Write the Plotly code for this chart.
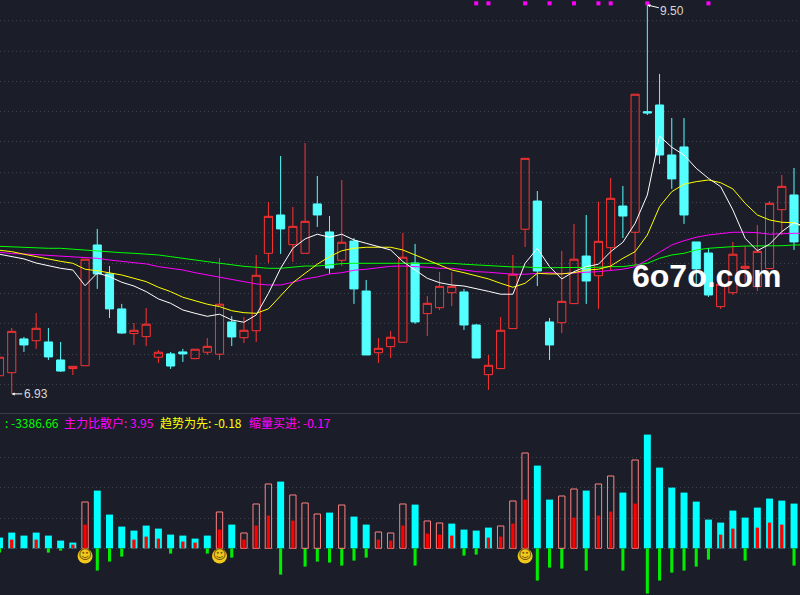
import plotly.graph_objects as go

opens = [7.050,7.070,7.293,7.281,7.273,7.154,7.097,7.116,7.913,7.722,7.491,7.328,7.308,7.172,7.194,7.207,7.163,7.205,7.192,7.405,7.301,7.347,7.858,8.111,7.915,7.858,8.184,7.999,7.812,7.939,7.609,7.202,7.242,7.271,7.794,7.460,7.499,7.598,7.603,7.385,7.057,7.097,7.361,8.017,8.203,7.405,7.400,7.526,7.840,7.710,7.895,8.170,7.997,8.793,8.837,8.507,8.560,7.933,7.860,7.506,7.598,7.759,7.638,7.757,8.146,8.243]
closes = [7.172,7.343,7.253,7.363,7.174,7.081,7.112,7.819,7.722,7.491,7.332,7.350,7.390,7.205,7.114,7.194,7.225,7.244,7.522,7.306,7.350,7.713,8.102,8.019,8.036,8.069,8.111,7.761,7.931,7.623,7.187,7.231,7.304,7.832,7.405,7.528,7.640,7.640,7.385,7.167,7.119,7.350,7.720,8.485,7.741,7.253,7.541,7.819,7.675,7.937,8.221,8.104,8.908,8.784,8.507,8.349,8.111,7.755,7.583,7.654,7.852,7.772,7.871,8.188,8.300,7.933]
highs = [7.172,7.365,7.306,7.464,7.365,7.273,7.112,7.819,8.019,7.774,7.524,7.398,7.497,7.220,7.207,7.227,7.225,7.299,7.827,7.444,7.438,7.847,8.197,8.500,8.164,8.586,8.368,8.104,8.342,7.959,7.682,7.299,7.345,7.992,7.920,7.576,7.735,7.735,7.623,7.392,7.187,7.438,7.847,8.485,8.269,7.431,7.873,8.052,8.111,8.199,8.355,8.302,8.908,9.500,9.042,8.751,8.751,7.933,7.893,7.682,7.933,7.906,8.045,8.203,8.375,8.421]
lows = [7.048,6.930,7.207,7.227,7.154,7.075,7.055,7.116,7.623,7.431,7.326,7.253,7.246,7.134,7.095,7.141,7.159,7.187,7.154,7.246,7.266,7.273,7.794,7.854,7.801,7.858,8.032,7.722,7.774,7.524,7.187,7.134,7.167,7.271,7.392,7.312,7.484,7.510,7.352,7.167,6.956,7.097,7.361,7.900,7.642,7.154,7.332,7.526,7.524,7.491,7.748,7.959,7.768,8.771,8.448,8.283,8.052,7.642,7.570,7.491,7.583,7.662,7.609,7.757,7.979,7.880]

ma_white = [7.852,7.834,7.821,7.794,7.776,7.759,7.748,7.644,7.728,7.704,7.667,7.642,7.605,7.557,7.528,7.484,7.462,7.442,7.456,7.418,7.403,7.451,7.594,7.759,7.891,7.953,7.984,7.964,7.984,7.946,7.924,7.902,7.880,7.803,7.748,7.693,7.664,7.649,7.642,7.627,7.607,7.588,7.588,7.792,7.891,7.770,7.689,7.737,7.770,7.786,7.869,7.931,8.056,8.243,8.632,8.558,8.507,8.419,8.353,8.298,8.144,7.957,7.875,7.918,8.001,8.060,8.032]
ma_yellow = [7.878,7.869,7.852,7.836,7.816,7.805,7.792,7.753,7.743,7.730,7.715,7.693,7.671,7.634,7.605,7.568,7.545,7.522,7.506,7.479,7.466,7.462,7.491,7.576,7.664,7.726,7.786,7.836,7.875,7.891,7.898,7.898,7.898,7.880,7.847,7.814,7.781,7.748,7.730,7.710,7.689,7.660,7.634,7.660,7.726,7.722,7.722,7.730,7.748,7.753,7.774,7.825,7.869,7.979,8.166,8.265,8.314,8.331,8.342,8.324,8.283,8.188,8.111,8.078,8.063,8.060,8.025]
ma_magenta = [7.865,7.856,7.854,7.849,7.847,7.842,7.836,7.832,7.825,7.814,7.803,7.796,7.788,7.770,7.759,7.748,7.730,7.715,7.700,7.682,7.669,7.656,7.649,7.649,7.667,7.689,7.702,7.722,7.730,7.746,7.753,7.763,7.772,7.774,7.772,7.766,7.759,7.759,7.748,7.737,7.733,7.726,7.720,7.720,7.726,7.730,7.724,7.730,7.733,7.737,7.743,7.753,7.770,7.814,7.865,7.913,7.941,7.964,7.979,7.990,7.997,7.997,7.994,7.984,7.988,7.990,7.990]
ma_green = [7.904,7.900,7.895,7.895,7.891,7.891,7.885,7.880,7.871,7.869,7.862,7.858,7.852,7.847,7.836,7.827,7.814,7.803,7.792,7.781,7.772,7.766,7.759,7.759,7.766,7.774,7.774,7.783,7.790,7.792,7.792,7.796,7.796,7.796,7.796,7.796,7.792,7.792,7.786,7.781,7.779,7.774,7.768,7.768,7.763,7.763,7.763,7.763,7.766,7.766,7.770,7.770,7.781,7.792,7.825,7.847,7.858,7.880,7.891,7.898,7.902,7.906,7.906,7.906,7.908,7.913,7.913]

flag_idx = [39,40,43,45,47,49,50,53,58]
flag_price = [9.508]*len(flag_idx)

N_ = None
vol_cyan = [10.7,15.7,12.7,15.7,12.7,7.7,5.7,N_,57.7,33.7,21.7,17.7,22.7,19.7,13.7,12.7,9.7,12.7,N_,23.7,N_,N_,N_,66.7,N_,N_,N_,35.7,N_,31.7,23.7,N_,N_,N_,43.7,N_,N_,24.7,18.7,17.7,20.7,N_,N_,N_,82.7,48.7,N_,N_,57.7,N_,N_,55.7,N_,113.7,80.7,60.7,55.7,46.7,28.7,25.7,37.7,30.7,40.7,49.7,47.7,44.7]
vol_hollow = [N_,N_,N_,N_,N_,N_,N_,46.3,N_,N_,N_,N_,N_,N_,N_,N_,N_,N_,36.3,N_,15.3,44.3,64.3,N_,53.3,45.3,34.3,N_,43.3,N_,N_,16.3,15.3,44.3,N_,27.3,25.3,N_,N_,N_,N_,22.3,47.3,95.3,N_,N_,52.3,59.3,N_,64.3,72.3,N_,88.3,N_,N_,N_,N_,N_,N_,N_,N_,N_,N_,N_,N_,N_]
vol_red = [N_,8.7,N_,8.7,N_,N_,3.7,23.7,N_,N_,N_,8.7,11.7,9.7,N_,6.7,5.7,N_,18.7,N_,8.7,22.7,32.7,N_,27.7,N_,N_,N_,N_,N_,N_,8.7,7.7,22.7,N_,14.7,13.7,12.7,N_,N_,10.7,11.7,24.7,48.7,N_,N_,N_,30.7,N_,32.7,36.7,N_,44.7,N_,N_,N_,N_,N_,N_,13.7,19.7,N_,20.7,25.7,23.7,N_]
vol_green = [-4.3,N_,N_,N_,-4.3,-2.3,N_,N_,-22.3,-13.3,-8.3,N_,N_,N_,-5.3,N_,N_,-5.3,N_,-9.3,N_,N_,N_,-26.3,N_,-18.3,-13.3,-14.3,-17.3,-12.3,-9.3,N_,N_,N_,-17.3,N_,N_,N_,-7.3,-6.3,N_,N_,N_,N_,-32.3,-19.3,-20.3,N_,-22.3,N_,N_,-22.3,N_,-45.3,-32.3,-24.3,-22.3,-18.3,-11.3,N_,N_,-12.3,N_,N_,N_,-17.3]
smile_idx = [7,18,43]
smile_val = [-7.7,-7.7,-7.7]

price_grid = [9.393,9.193,8.993,8.793,8.593,8.393,8.193,7.993,7.793,7.593,7.393,7.193,6.993]
vol_grid = [0,30,61,91]

BG = "#1b1e28"
RED = "#ff3232"
CYAN = "#54ffff"
xs = list(range(len(opens)))

fig = go.Figure()
fig.add_trace(go.Candlestick(
    x=xs, open=opens, high=highs, low=lows, close=closes,
    increasing=dict(line=dict(color=RED, width=1), fillcolor="rgba(0,0,0,0)"),
    decreasing=dict(line=dict(color=CYAN, width=1), fillcolor=CYAN),
    whiskerwidth=0, xaxis="x", yaxis="y", hoverinfo="skip"))
for vals, col in [(ma_green, "#00ff00"), (ma_magenta, "#ff00ff"), (ma_yellow, "#ffff00"), (ma_white, "#ffffff")]:
    fig.add_trace(go.Scatter(x=list(range(len(vals))), y=vals, mode="lines",
                             line=dict(color=col, width=1), xaxis="x", yaxis="y", hoverinfo="skip"))
fig.add_trace(go.Scatter(x=flag_idx, y=flag_price, mode="markers",
                         marker=dict(symbol="square", size=4, color="#ff00ff"), xaxis="x", yaxis="y", hoverinfo="skip"))

fig.add_trace(go.Bar(x=xs, y=vol_cyan, width=0.57, marker=dict(color="#00ffff", line_width=0), xaxis="x2", yaxis="y2", hoverinfo="skip"))
fig.add_trace(go.Bar(x=xs, y=vol_green, width=0.25, marker=dict(color="#00ee00", line_width=0), xaxis="x2", yaxis="y2", hoverinfo="skip"))
fig.add_trace(go.Bar(x=xs, y=vol_hollow, width=0.52, marker=dict(color="rgba(0,0,0,0)", line=dict(color="#ff8080", width=1)), xaxis="x2", yaxis="y2", hoverinfo="skip"))
fig.add_trace(go.Bar(x=xs, y=vol_red, width=0.27, marker=dict(color="#ff0000", line_width=0), xaxis="x2", yaxis="y2", hoverinfo="skip"))
fig.add_trace(go.Scatter(x=smile_idx, y=smile_val, mode="markers+text", text=["☺"]*3,
                         textposition="middle center", textfont=dict(family="DejaVu Sans", size=13, color="#6b5200"),
                         marker=dict(size=15, color="#f2c81e"), xaxis="x2", yaxis="y2", hoverinfo="skip"))

DOT = "1px,3px"
XR = [0.041, 65.49]
fig.update_layout(
    width=800, height=595, margin=dict(l=0, r=0, t=0, b=0, pad=0),
    paper_bgcolor=BG, plot_bgcolor=BG, showlegend=False, barmode="overlay", boxgap=0.05,
    hovermode=False,
    xaxis=dict(domain=[0, 1], range=XR, anchor="y", showgrid=False, zeroline=False, showticklabels=False, ticks="",
               showline=True, linecolor="#3a3d46", linewidth=1, rangeslider=dict(visible=False)),
    yaxis=dict(domain=[0.3059, 1], range=[6.804, 9.53], tickvals=price_grid, showticklabels=False, ticks="",
               showgrid=True, gridcolor="#40444e", griddash=DOT, gridwidth=1, zeroline=False),
    xaxis2=dict(domain=[0, 1], range=XR, anchor="y2", showgrid=False, zeroline=False, showticklabels=False, ticks=""),
    yaxis2=dict(domain=[0, 0.3059], range=[-46.7, 135.3], tickvals=vol_grid, showticklabels=False, ticks="",
                showgrid=True, gridcolor="#40444e", griddash=DOT, gridwidth=1, zeroline=False),
    font=dict(family="Noto Sans CJK SC", size=12),
)

legend_items = [(3, ": -3386.66", "#00ff00"), (62, "主力比散户: 3.95", "#ff00ff"),
                (158, "趋势为先: -0.18", "#ffff00"), (247, "缩量买进: -0.17", "#ff00ff")]
for px, txt, col in legend_items:
    fig.add_annotation(xref="paper", yref="paper", x=px/800, y=1-422/595, text=txt, showarrow=False,
                       xanchor="left", yanchor="middle", font=dict(color=col, size=12, family="Noto Sans CJK SC"))

fig.add_annotation(x=1, y=6.93, xref="x", yref="y", text="6.93", showarrow=True, arrowhead=2, arrowsize=0.6, arrowwidth=1,
                   arrowcolor="#ffffff", ax=24, ay=0, standoff=0, font=dict(color="#d8d8d8", size=12, family="Liberation Sans"))
fig.add_annotation(x=53, y=9.497, xref="x", yref="y", text="9.50", showarrow=True, arrowhead=2, arrowsize=0.6, arrowwidth=1,
                   arrowcolor="#ffffff", ax=25, ay=6, standoff=0, font=dict(color="#d8d8d8", size=12, family="Liberation Sans"))
fig.add_annotation(xref="paper", yref="paper", x=706/800, y=1-276/595, text="<b>6o7o.com</b>", showarrow=False,
                   xanchor="center", yanchor="middle", font=dict(color="#ffffff", size=32, family="Liberation Sans"))

fig.write_html("out.html", config={"displayModeBar": False},
               post_script="document.body.style.margin='0';document.body.style.background='#1b1e28';document.documentElement.style.overflow='hidden';")
